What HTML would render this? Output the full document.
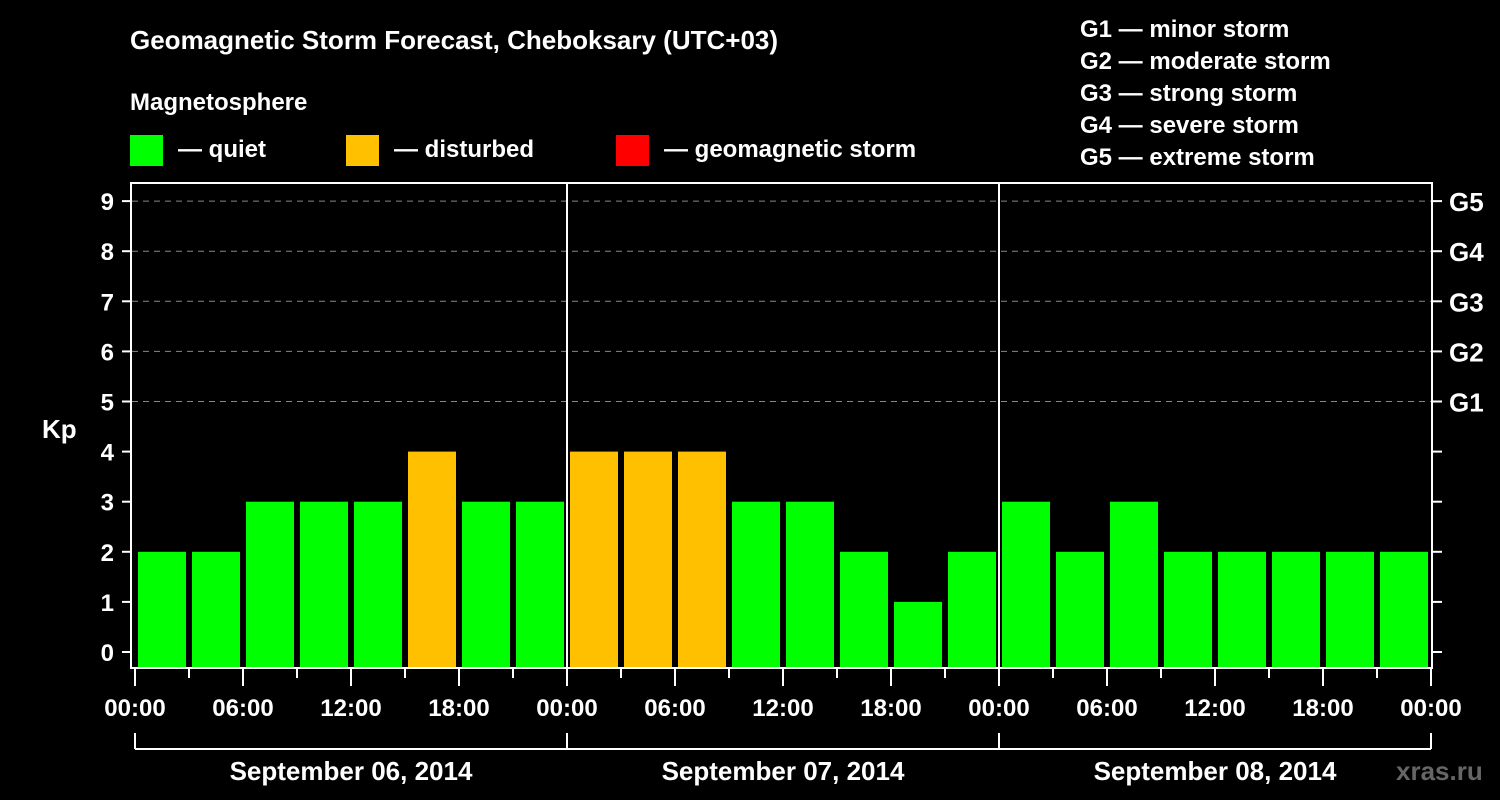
<!DOCTYPE html>
<html><head><meta charset="utf-8"><style>
body{margin:0;background:#000;width:1500px;height:800px;overflow:hidden}
svg{display:block;font-family:"Liberation Sans",sans-serif;font-weight:bold}
</style></head><body>
<svg id="c" width="1500" height="800">
<text x="130" y="49" fill="#fff" font-size="26">Geomagnetic Storm Forecast, Cheboksary (UTC+03)</text>
<text x="130" y="110" fill="#fff" font-size="24">Magnetosphere</text>
<rect x="130" y="135" width="33" height="31" fill="#00ff00"/>
<text x="178" y="157" fill="#fff" font-size="24">— quiet</text>
<rect x="346" y="135" width="33" height="31" fill="#ffc000"/>
<text x="394" y="157" fill="#fff" font-size="24">— disturbed</text>
<rect x="616" y="135" width="33" height="31" fill="#ff0000"/>
<text x="664" y="157" fill="#fff" font-size="24">— geomagnetic storm</text>
<g fill="#fff" font-size="24">
<text x="1080" y="37">G1 — minor storm</text>
<text x="1080" y="69">G2 — moderate storm</text>
<text x="1080" y="101">G3 — strong storm</text>
<text x="1080" y="133">G4 — severe storm</text>
<text x="1080" y="165">G5 — extreme storm</text>
</g>
<text x="42" y="438" fill="#fff" font-size="26">Kp</text>
<text x="1396" y="780" fill="#666" font-size="26">xras.ru</text>
<g id="grid"></g><g id="bars"></g><g id="axes"></g>
</svg>
<script>
const kpValues=[2,2,3,3,3,4,3,3, 4,4,4,3,3,2,1,2, 3,2,3,2,2,2,2,2];
const dayLabels=["September 06, 2014","September 07, 2014","September 08, 2014"];
const yTicks=[0,1,2,3,4,5,6,7,8,9];
const gLabels=["G1","G2","G3","G4","G5"];
const xTickLabels=["00:00","06:00","12:00","18:00"];
const NS="http://www.w3.org/2000/svg";
const X0=135,HW=18,Y0=652,UY=50.1,TOP=183,BOT=668,RIGHT=1432;
const xs=h=>X0+h*HW, ys=v=>Y0-v*UY;
function mk(t,a,p){const e=document.createElementNS(NS,t);for(const k in a)e.setAttribute(k,a[k]);p.appendChild(e);return e;}
const grid=document.getElementById('grid'),bars=document.getElementById('bars'),axes=document.getElementById('axes');
yTicks.forEach(v=>{if(v>=5){const l=mk('line',{x1:132,x2:RIGHT,y1:ys(v),y2:ys(v),stroke:'#888','stroke-dasharray':'6,5','stroke-width':1},grid);

}});
kpValues.forEach((v,i)=>{const col=v>=5?'#ff0000':v>=4?'#ffc000':'#00ff00';
const r=mk('rect',{x:xs(i*3)+3,y:ys(v),width:HW*3-6,height:BOT-ys(v),fill:col},bars);

});
mk('rect',{x:131,y:TOP,width:RIGHT-131,height:BOT-TOP,fill:'none',stroke:'#fff','stroke-width':2},axes);
for(let d=1;d<3;d++){mk('line',{x1:xs(d*24),x2:xs(d*24),y1:TOP,y2:BOT,stroke:'#fff','stroke-width':2},axes);}
yTicks.forEach(v=>{mk('line',{x1:122,x2:131,y1:ys(v),y2:ys(v),stroke:'#fff','stroke-width':2},axes);
mk('line',{x1:RIGHT,x2:RIGHT+10,y1:ys(v),y2:ys(v),stroke:'#fff','stroke-width':2},axes);
const t=mk('text',{x:114,y:ys(v)+9,fill:'#fff','font-size':24,'text-anchor':'end'},axes);t.textContent=v;


if(v>=5){const g=mk('text',{x:1449,y:ys(v)+10,fill:'#fff','font-size':26},axes);g.textContent=gLabels[v-5];

}});
for(let h=0;h<=72;h+=3){const maj=h%6===0;
mk('line',{x1:xs(h),x2:xs(h),y1:BOT,y2:maj?686:678,stroke:'#fff','stroke-width':2},axes);
if(maj){const t=mk('text',{x:xs(h),y:716,fill:'#fff','font-size':24,'text-anchor':'middle'},axes);t.textContent=xTickLabels[(h/6)%4];

}}
mk('line',{x1:xs(0),x2:xs(72),y1:749,y2:749,stroke:'#fff','stroke-width':2},axes);
for(let d=0;d<=3;d++)mk('line',{x1:xs(d*24),x2:xs(d*24),y1:733,y2:749,stroke:'#fff','stroke-width':2},axes);
dayLabels.forEach((s,d)=>{const t=mk('text',{x:xs(d*24+12),y:780,fill:'#fff','font-size':26,'text-anchor':'middle'},axes);t.textContent=s;

});
</script>
</body></html>
